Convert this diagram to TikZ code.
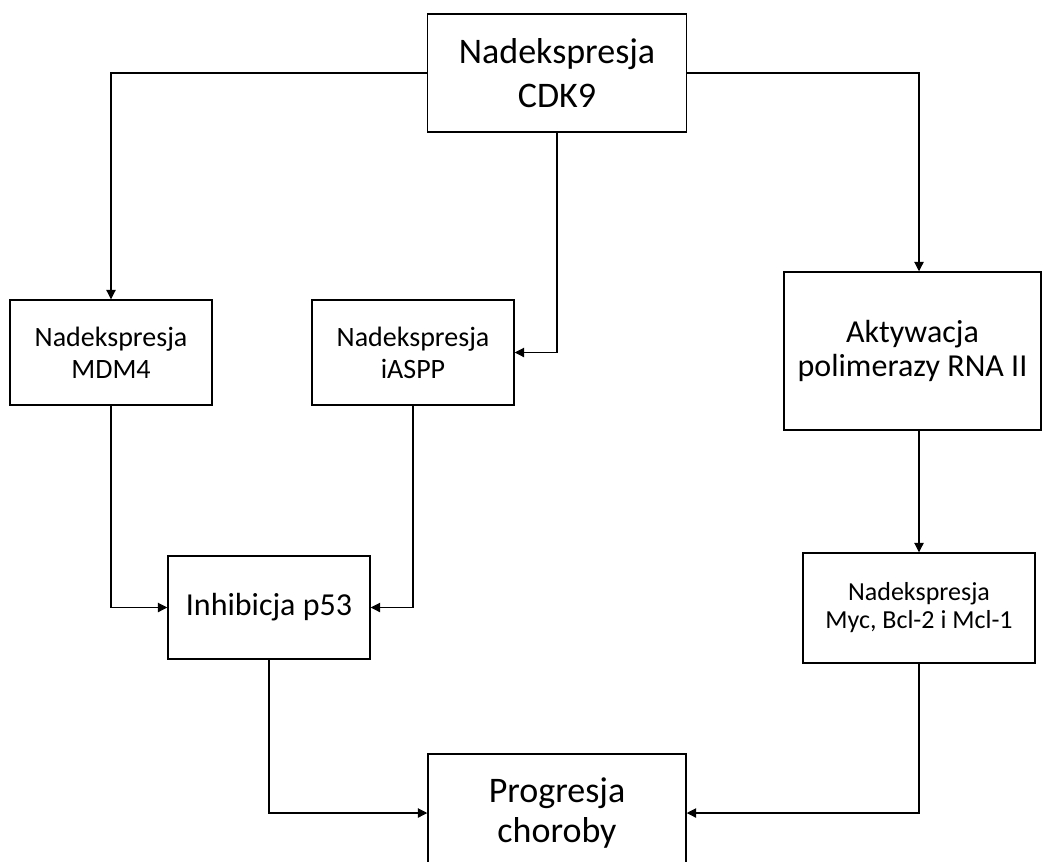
\documentclass[tikz,border=0pt]{standalone}
\usepackage{fontspec}
\setmainfont{Carlito}
\usetikzlibrary{arrows.meta}

\tikzset{
  blok/.style={draw, line width=1.1pt, align=center, inner sep=0pt},
  wym/.style 2 args={minimum width=#1*0.75pt, minimum height=#2*0.75pt},
  strzalka/.style={line width=0.8pt, -{Triangle[length=7pt,width=7pt]}}
}

\begin{document}
\begin{tikzpicture}[x=0.75pt,y=-0.75pt]
        \useasboundingbox (0,0) rectangle (1045,861);

        % Bloki (prostokaty)
        \node[blok, wym={259}{118}, font=\fontsize{27}{33}\selectfont] (cdk) at (557,73) {Nadekspresja\\CDK9};
        \node[blok, wym={202}{105}, font=\fontsize{21}{24}\selectfont] (mdm) at (111,352.5) {Nadekspresja\\MDM4};
        \node[blok, wym={202}{105}, font=\fontsize{21}{24}\selectfont] (iaspp) at (413,352.5) {Nadekspresja\\iASPP};
        \node[blok, wym={257}{158}, font=\fontsize{24}{26}\selectfont] (akt) at (912.5,351) {Aktywacja\\polimerazy RNA II};
        \node[blok, wym={202}{103}, font=\fontsize{24}{28}\selectfont] (inh) at (269,607.5) {Inhibicja p53};
        \node[blok, wym={232}{110}, font=\fontsize{19.5}{21}\selectfont] (myc) at (919,608) {Nadekspresja\\Myc, Bcl-2 i Mcl-1};
        \node[blok, wym={258}{118}, font=\fontsize{27}{30}\selectfont] (prog) at (557,813) {Progresja\\choroby};

        % Strzalki od CDK9
        \draw[strzalka] (cdk.west) -| (mdm.north);
        \draw[strzalka] (cdk.east) -| (akt.north -| myc.north);
        \draw[strzalka] (cdk.south) |- (iaspp.east);

        % Strzalki do p53 i dalej
        \draw[strzalka] (mdm.south) |- (inh.west);
        \draw[strzalka] (iaspp.south) |- (inh.east);
        \draw[strzalka] (akt.south -| myc.north) -- (myc.north);

        % Progresja choroby
        \draw[strzalka] (inh.south) |- (prog.west);
        \draw[strzalka] (myc.south) |- (prog.east);

    \end{tikzpicture}
\end{document}
